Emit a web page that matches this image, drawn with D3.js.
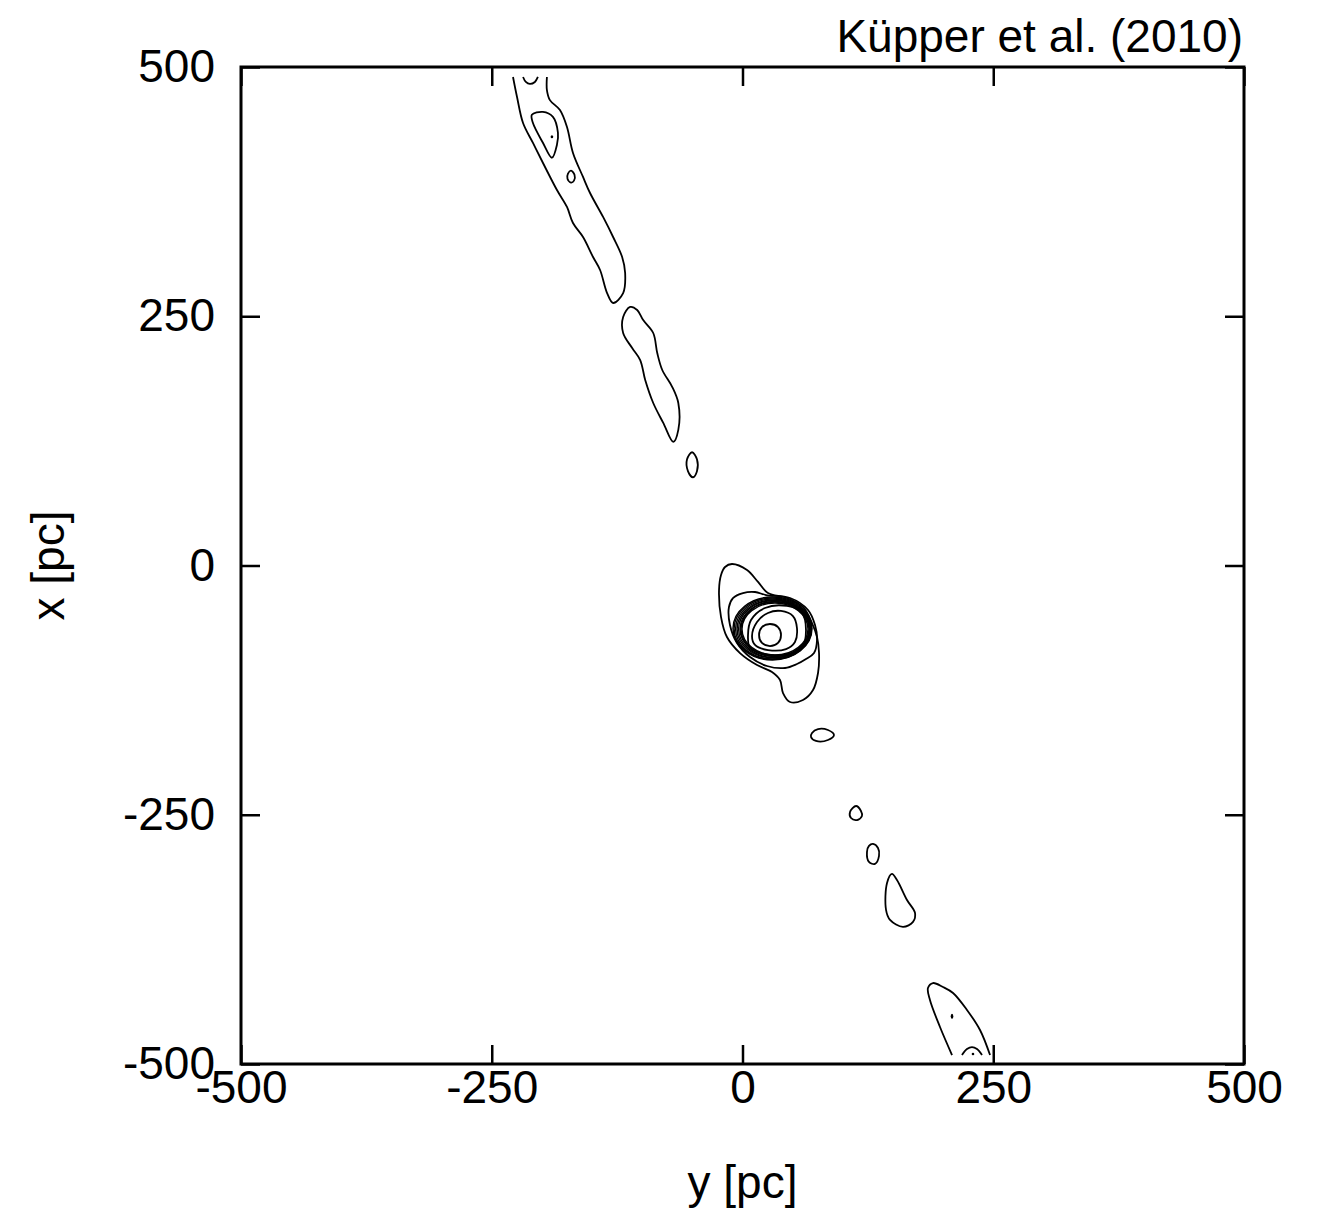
<!DOCTYPE html>
<html>
<head>
<meta charset="utf-8">
<script src="https://cdn.jsdelivr.net/npm/d3@7"></script>
<style>
  body { margin: 0; background: #fff; }
  svg { display: block; font-family: "Liberation Sans", Arial, Helvetica, sans-serif; }
</style>
</head>
<body>
<svg id="chart" width="1320" height="1215"></svg>
<script>
// axis ticks (pc)
const yTicks = [-500, -250, 0, 250, 500];   // horizontal axis, y [pc]
const xTicks = [-500, -250, 0, 250, 500];   // vertical axis, x [pc]

// contour lines, points as [y, x] in pc
// leading tail (upper left), cut at the edge of the density grid
const tailNorthOuter = [[-228.8,490],[-224.8,469.9],[-218.8,443.8],[-208.9,423.8],[-198.9,403.7],[-185,376.6],
  [-175,359.6],[-169,343.5],[-159,329.5],[-149,309.4],[-142,296.4],[-135,273.3],[-129,263.3],[-119,273.3],
  [-117,293.4],[-120,309.4],[-129,329.5],[-139,349.6],[-152,373.6],[-159,389.7],[-169,413.8],[-175,439.8],
  [-182,456.8],[-192,466.8],[-195,476.9],[-195,490]];
const tailNorthCap = [[-218.8,490],[-216,485],[-212,483],[-207,485],[-204,490]];
const tailNorthClump = [[-210,452],[-199,455],[-189,450],[-184,434],[-185,422],[-190,409],[-199,424],[-209,444]];
const tailNorthKnot = [[-171,396],[-167.5,392],[-168,386],[-171,384],[-174.5,388],[-174,393]];
const tailNorthMid = [[-112,259.3],[-119,249.2],[-119,233.2],[-110,218.1],[-102,206.1],[-97,186.1],[-89,163],
  [-79,143],[-69,123.9],[-64,136],[-64,163],[-70,179],[-80,196.1],[-85,213.1],[-89,233.2],[-99,246.2],[-105,256.3]];
const tailNorthBlob = [[-50.3,113.6],[-45.4,106.5],[-45.4,94.5],[-49.3,88.5],[-54.3,94.5],[-55.3,106.5]];

// cluster
const clusterOuter = [[-10.5,1.5],[4.5,-4.5],[15.5,-16.5],[25.4,-27.6],[44.4,-32.6],[60.3,-41.6],[69.3,-57.7],
  [74.3,-71.7],[76.3,-87.8],[75.3,-107.8],[70.3,-124.9],[60.3,-134.9],[47.4,-136.9],[40.4,-127.9],[37.4,-114.8],
  [29.4,-106.8],[14.5,-99.8],[-2.5,-87.8],[-15.5,-71.7],[-21.4,-51.7],[-23.4,-24.6],[-21.4,-9.5],[-17.4,-1.5]];
const clusterSecond = [[-13.5,-41.6],[-9.5,-32.6],[0.5,-27.6],[12.5,-26.6],[23.4,-29.6],[47.4,-32.6],[65.3,-44.6],
  [72.3,-59.7],[74.3,-74.7],[71.3,-87.8],[63.3,-93.8],[54.3,-98.8],[42.4,-102.8],[24.4,-100.8],[7.5,-91.8],
  [-5.5,-77.7],[-12.5,-59.7]];
// tightly packed rings: centre y, centre x, half width (y), half height (x)
const ringCy = [29.9, 30.2, 30.7, 31.2, 31.7, 32.2, 32.4, 32.4];
const ringCx = [-63.2, -63.4, -63.7, -63.7, -63.7, -63.7, -63.7, -63.7];
const ringRy = [39.4, 38.6, 37.6, 36.6, 35.6, 34.6, 33.9, 32.9];
const ringRx = [31.6, 30.8, 30.1, 29.1, 28.6, 27.6, 27.1, 26.1];
const coreSquare = [[5.5,-69.7],[8.5,-54.7],[22.4,-42.6],[44.4,-40.6],[59.3,-47.6],[63.3,-64.7],[59.3,-82.7],
  [47.4,-88.8],[22.4,-88.8],[7.5,-82.7]];
const coreTriangle = [[9.5,-70.7],[14.5,-56.7],[25.4,-47.6],[38.4,-45.6],[50.3,-50.7],[54.3,-62.7],[52.3,-76.7],
  [43.4,-83.8],[25.4,-84.8],[12.5,-79.7]];
const coreCentre = [[27.4,-58.7],[35.4,-61.7],[38.4,-69.7],[35.4,-77.7],[27.4,-80.8],[19.4,-77.7],[16.5,-69.7],[19.4,-61.7]];

// trailing tail (lower right)
const tailSouthBlob1 = [[69.3,-168],[75.3,-164],[85.2,-165],[91.2,-170],[85.2,-175],[73.3,-176],[68.3,-172]];
const tailSouthBlob2 = [[113.2,-241.2],[118.1,-246.2],[119.1,-251.3],[114.2,-255.3],[108.2,-253.3],[107.2,-247.2]];
const tailSouthBlob3 = [[130.1,-279.3],[135.1,-283.3],[136.1,-291.3],[132.1,-299.3],[126.1,-297.3],[124.1,-287.3],[126.1,-281.3]];
const tailSouthDrop = [[149,-309.4],[154,-315.4],[164,-335.5],[172,-348.5],[170,-357.5],[160,-362.5],[147.1,-355.5],
  [143.1,-345.4],[144.1,-318.4]];
const tailSouthOuter = [[208.9,-491],[196.9,-462.9],[186.9,-435.8],[184.9,-423.8],[189.9,-418.8],[199.9,-422.8],
  [209.9,-428.8],[223.8,-445.8],[236.8,-465.9],[246.8,-491]];
const tailSouthCap = [[218.8,-491],[223.8,-485],[228.8,-483],[233.8,-485],[238.8,-491]];

// tiny closed contours around local peaks: [y, x, half height]
const peaks = [[-190,430,1.5],[208.9,-452,2.5],[229.8,-490,1.2]];

const closedContours = [tailNorthClump, tailNorthKnot, tailNorthMid, tailNorthBlob, clusterOuter, clusterSecond,
  coreSquare, coreTriangle, coreCentre, tailSouthBlob1, tailSouthBlob2, tailSouthBlob3, tailSouthDrop];
const openContours = [tailNorthOuter, tailNorthCap, tailSouthOuter, tailSouthCap];

const plotLeft = 241, plotRight = 1244, plotTop = 67, plotBottom = 1064;
const sx = d3.scaleLinear().domain([-500, 500]).range([plotLeft, plotRight]);
const sy = d3.scaleLinear().domain([-500, 500]).range([plotBottom, plotTop]);

const svg = d3.select("#chart");

const closedLine = d3.line().x(d => sx(d[0])).y(d => sy(d[1])).curve(d3.curveCatmullRomClosed.alpha(0.5));
const openLine = d3.line().x(d => sx(d[0])).y(d => sy(d[1])).curve(d3.curveCatmullRom.alpha(0.5));

const plot = svg.append("g")
  .attr("fill", "none")
  .attr("stroke", "#000")
  .attr("stroke-width", 1.8);

plot.selectAll("path.closed")
  .data(closedContours)
  .join("path")
  .attr("class", "closed")
  .attr("d", closedLine);

plot.selectAll("path.open")
  .data(openContours)
  .join("path")
  .attr("class", "open")
  .attr("d", openLine);

plot.selectAll("ellipse.ring")
  .data(d3.range(ringCy.length))
  .join("ellipse")
  .attr("class", "ring")
  .attr("stroke-width", 1.4)
  .attr("cx", i => sx(ringCy[i]))
  .attr("cy", i => sy(ringCx[i]))
  .attr("rx", i => sx(ringRy[i]) - sx(0))
  .attr("ry", i => sy(0) - sy(ringRx[i]));

svg.append("g")
  .selectAll("ellipse")
  .data(peaks)
  .join("ellipse")
  .attr("cx", d => sx(d[0]))
  .attr("cy", d => sy(d[1]))
  .attr("rx", 1.3)
  .attr("ry", d => d[2])
  .attr("fill", "#000");

// axes, ticks pointing inward on all four sides
const tickLen = 19;
const fontSize = 46;
const plain = d => String(d);   // ASCII hyphen for negatives, like the original

const gBottom = svg.append("g")
  .attr("transform", `translate(0,${plotBottom})`)
  .call(d3.axisBottom(sx).tickValues(yTicks).tickFormat(plain).tickSizeInner(-tickLen).tickSizeOuter(0).tickPadding(6));
const gLeft = svg.append("g")
  .attr("transform", `translate(${plotLeft},0)`)
  .call(d3.axisLeft(sy).tickValues(xTicks).tickFormat(plain).tickSizeInner(-tickLen).tickSizeOuter(0).tickPadding(26));
const gTop = svg.append("g")
  .attr("transform", `translate(0,${plotTop})`)
  .call(d3.axisTop(sx).tickValues(yTicks).tickSizeInner(-tickLen).tickSizeOuter(0).tickFormat(""));
const gRight = svg.append("g")
  .attr("transform", `translate(${plotRight},0)`)
  .call(d3.axisRight(sy).tickValues(xTicks).tickSizeInner(-tickLen).tickSizeOuter(0).tickFormat(""));

[gBottom, gLeft, gTop, gRight].forEach(g => {
  g.select(".domain").remove();
  g.selectAll(".tick line").attr("stroke", "#000").attr("stroke-width", 2.5);
  g.selectAll(".tick text")
    .attr("fill", "#000")
    .attr("font-family", "'Liberation Sans', Arial, Helvetica, sans-serif")
    .attr("font-size", fontSize);
});

svg.append("rect")
  .attr("x", plotLeft)
  .attr("y", plotTop)
  .attr("width", plotRight - plotLeft)
  .attr("height", plotBottom - plotTop)
  .attr("fill", "none")
  .attr("stroke", "#000")
  .attr("stroke-width", 3);

svg.append("text")
  .attr("x", (plotLeft + plotRight) / 2)
  .attr("y", 1198)
  .attr("text-anchor", "middle")
  .attr("font-size", fontSize)
  .text("y [pc]");

svg.append("text")
  .attr("transform", `translate(64,${(plotTop + plotBottom) / 2}) rotate(-90)`)
  .attr("text-anchor", "middle")
  .attr("font-size", fontSize)
  .text("x [pc]");

svg.append("text")
  .attr("x", 1243)
  .attr("y", 52)
  .attr("text-anchor", "end")
  .attr("font-size", fontSize)
  .text("Küpper et al. (2010)");
</script>
</body>
</html>
